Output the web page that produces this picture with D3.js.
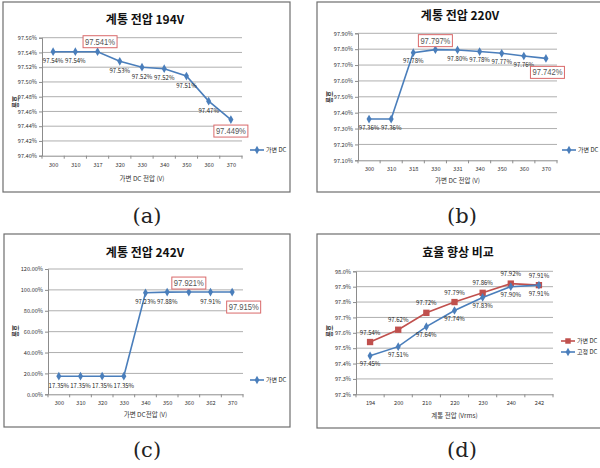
<!DOCTYPE html>
<html>
<head>
<meta charset="utf-8">
<script src="https://cdn.jsdelivr.net/npm/d3@7/dist/d3.min.js"></script>
<style>
  html, body { margin: 0; padding: 0; background: #fff; }
  svg { display: block; }
</style>
</head>
<body>
<svg id="chart" width="600" height="468"></svg>
<script>
// ── 데이터 ─────────────────────────────────────────────
// (a) 계통 전압 194V
const catsA   = ["300", "310", "317", "320", "330", "340", "350", "360", "370"];
const valsA   = [97.541, 97.541, 97.541, 97.528, 97.520, 97.518, 97.508, 97.474, 97.449];
const lblsA   = ["97.54%", "97.54%", "", "97.53%", "97.52%", "97.52%", "97.51%", "97.47%", ""];
const ticksA  = [97.40, 97.42, 97.44, 97.46, 97.48, 97.50, 97.52, 97.54, 97.56];
const boxesA  = ["97.541%", "97.449%"];

// (b) 계통 전압 220V
const catsB   = ["300", "310", "318", "330", "331", "340", "350", "360", "370"];
const valsB   = [97.36, 97.36, 97.778, 97.797, 97.795, 97.785, 97.774, 97.757, 97.742];
const lblsB   = ["97.36%", "97.36%", "97.78%", "", "97.80%", "97.78%", "97.77%", "97.76%", ""];
const ticksB  = [97.10, 97.20, 97.30, 97.40, 97.50, 97.60, 97.70, 97.80, 97.90];
const boxesB  = ["97.797%", "97.742%"];

// (c) 계통 전압 242V
const catsC   = ["300", "310", "320", "330", "340", "350", "360", "362", "370"];
const valsC   = [17.35, 17.35, 17.35, 17.35, 97.23, 97.88, 97.921, 97.91, 97.915];
const lblsC   = ["17.35%", "17.35%", "17.35%", "17.35%", "97.23%", "97.88%", "", "97.91%", ""];
const ticksC  = [0, 20, 40, 60, 80, 100, 120];
const boxesC  = ["97.921%", "97.915%"];

// (d) 효율 향상 비교
const catsD   = ["194", "200", "210", "220", "230", "240", "242"];
const varDC   = [97.54, 97.62, 97.73, 97.80, 97.86, 97.92, 97.91];
const fixDC   = [97.45, 97.51, 97.64, 97.745, 97.83, 97.90, 97.91];
const lblVar  = ["97.54%", "97.62%", "97.72%", "97.79%", "97.86%", "97.92%", "97.91%"];
const lblFix  = ["97.45%", "97.51%", "97.64%", "97.74%", "97.83%", "97.90%", "97.91%"];
const ticksD  = [97.2, 97.3, 97.4, 97.5, 97.6, 97.7, 97.8, 97.9, 98.0];

const BLUE = "#4a7ebb";
const RED  = "#c0504d";
const KR   = "'Noto Sans CJK KR', 'Noto Sans', sans-serif";

const svg = d3.select("#chart");

// ── 패널 그리기 ─────────────────────────────────────────
function drawPanel(p) {
  const g = svg.append("g");

  // 외곽 프레임
  g.append("rect")
    .attr("x", p.frame[0]).attr("y", p.frame[1])
    .attr("width", p.frame[2]).attr("height", p.frame[3])
    .attr("fill", "#fff").attr("stroke", "#6e6e6e").attr("stroke-width", 1.2);

  // 캡션 (a) 등
  svg.append("text")
    .attr("x", p.caption[0]).attr("y", p.caption[1])
    .attr("text-anchor", "middle")
    .attr("font-family", "'DejaVu Serif', 'Liberation Serif', serif")
    .attr("font-size", 21).attr("fill", "#222")
    .text(p.captionText);

  // 제목
  g.append("text")
    .attr("x", p.title[0]).attr("y", p.title[1])
    .attr("text-anchor", "middle")
    .attr("font-family", KR).attr("font-weight", "bold")
    .attr("font-size", 12).attr("fill", "#111")
    .text(p.titleText);

  const [x0, x1, yTop, yBot] = p.plot;
  const x = d3.scalePoint().domain(p.cats).range([x0, x1]).padding(0.5);
  const y = d3.scaleLinear().domain(p.domain).range([yBot, yTop]);

  // 그리드
  g.append("g").selectAll("line").data(p.ticks.slice(1)).join("line")
    .attr("x1", x0).attr("x2", x1)
    .attr("y1", d => y(d)).attr("y2", d => y(d))
    .attr("stroke", "#a6a6a6").attr("stroke-width", 0.9);

  // y축
  const yAxis = g.append("g")
    .attr("transform", `translate(${x0},0)`)
    .call(d3.axisLeft(y).tickValues(p.ticks).tickFormat(p.fmt).tickSize(3).tickPadding(2));
  yAxis.select(".domain").attr("stroke", "#8c8c8c");
  yAxis.selectAll(".tick line").attr("stroke", "#8c8c8c");
  yAxis.selectAll("text").attr("font-family", KR).attr("font-size", 5.6).attr("fill", "#333");

  // x축
  const step = x.step();
  const xAxis = g.append("g")
    .attr("transform", `translate(0,${yBot})`)
    .call(d3.axisBottom(x).tickSize(0).tickPadding(7));
  xAxis.select(".domain").attr("stroke", "#8c8c8c");
  xAxis.selectAll("text").attr("font-family", KR).attr("font-size", 5.6).attr("fill", "#333");
  g.append("g").selectAll("line").data(d3.range(p.cats.length + 1)).join("line")
    .attr("x1", i => x0 + i * step).attr("x2", i => x0 + i * step)
    .attr("y1", yBot).attr("y2", yBot + 3)
    .attr("stroke", "#8c8c8c");

  // 축 제목
  g.append("text")
    .attr("x", (x0 + x1) / 2).attr("y", p.xTitleY)
    .attr("text-anchor", "middle")
    .attr("font-family", KR).attr("font-size", 6.5).attr("fill", "#333")
    .text(p.xTitle);
  g.append("text")
    .attr("transform", `translate(${p.yTitle[0]},${p.yTitle[1]}) rotate(90)`)
    .attr("text-anchor", "middle")
    .attr("font-family", KR).attr("font-size", 6.5).attr("font-weight", "bold").attr("fill", "#333")
    .text("효율");

  // 계열
  p.series.forEach(s => {
    const pts = s.vals.map((v, i) => [x(p.cats[i]), y(v)]);
    g.append("path")
      .attr("d", d3.line()(pts))
      .attr("fill", "none").attr("stroke", s.color).attr("stroke-width", 1.6);
    const sym = d3.symbol().type(s.square ? d3.symbolSquare : d3.symbolDiamond).size(s.square ? 40 : 22);
    g.append("g").selectAll("path").data(pts).join("path")
      .attr("transform", d => `translate(${d[0]},${d[1]})`)
      .attr("d", sym).attr("fill", s.color);
    g.append("g").selectAll("text").data(s.labels).join("text")
      .attr("x", (d, i) => pts[i][0])
      .attr("y", (d, i) => pts[i][1] + s.ldy)
      .attr("text-anchor", "middle").attr("dominant-baseline", "middle")
      .attr("font-family", KR).attr("font-size", 6).attr("fill", "#222")
      .text(d => d);
  });

  // 강조 박스
  (p.boxes || []).forEach((b, k) => {
    const pos = p.boxPos[k];
    const px = x(p.cats[pos.i]) + pos.dx, py = y(p.series[0].vals[pos.i]) + pos.dy;
    g.append("rect")
      .attr("x", px - 17).attr("y", py - 6).attr("width", 34).attr("height", 12)
      .attr("fill", "#fff").attr("stroke", "#d9696a").attr("stroke-width", 1);
    g.append("text")
      .attr("x", px).attr("y", py + 0.5)
      .attr("text-anchor", "middle").attr("dominant-baseline", "middle")
      .attr("font-family", "'Liberation Sans', Arial, sans-serif")
      .attr("font-size", 9).attr("fill", "#555")
      .attr("textLength", 30).attr("lengthAdjust", "spacingAndGlyphs")
      .text(b);
  });

  // 범례
  p.legend.forEach((l, k) => {
    const ly = p.legendPos[1] + k * 11;
    const lx = p.legendPos[0];
    g.append("line")
      .attr("x1", lx).attr("x2", lx + 14).attr("y1", ly).attr("y2", ly)
      .attr("stroke", l.color).attr("stroke-width", 1.6);
    g.append("path")
      .attr("transform", `translate(${lx + 7},${ly})`)
      .attr("d", d3.symbol().type(l.square ? d3.symbolSquare : d3.symbolDiamond).size(l.square ? 30 : 20)())
      .attr("fill", l.color);
    g.append("text")
      .attr("x", lx + 16).attr("y", ly + 0.5)
      .attr("dominant-baseline", "middle")
      .attr("font-family", KR).attr("font-size", 6).attr("fill", "#222")
      .text(l.text);
  });
}

const pct2 = d => d3.format(".2f")(d) + "%";
const pct1 = d => d3.format(".1f")(d) + "%";

drawPanel({
  frame: [3, 2, 287, 190], caption: [147, 223], captionText: "(a)",
  title: [145, 24], titleText: "계통 전압 194V",
  plot: [42, 242, 37.7, 155.7], domain: [97.40, 97.56], ticks: ticksA, fmt: pct2, cats: catsA,
  xTitle: "가변 DC 전압 (V)", xTitleY: 181, yTitle: [13, 102],
  series: [{ vals: valsA, labels: lblsA, color: BLUE, ldy: 10 }],
  boxes: boxesA, boxPos: [{ i: 2, dx: 2.5, dy: -10 }, { i: 8, dx: 0, dy: 11.5 }],
  legend: [{ text: "가변 DC", color: BLUE }], legendPos: [250, 150]
});

drawPanel({
  frame: [317, 2, 290, 190], caption: [462, 223], captionText: "(b)",
  title: [460, 20], titleText: "계통 전압 220V",
  plot: [358, 557, 33.3, 160.3], domain: [97.10, 97.90], ticks: ticksB, fmt: pct2, cats: catsB,
  xTitle: "가변 DC 전압 (V)", xTitleY: 183, yTitle: [327, 97],
  series: [{ vals: valsB, labels: lblsB, color: BLUE, ldy: 9 }],
  boxes: boxesB, boxPos: [{ i: 3, dx: 0, dy: -9 }, { i: 8, dx: 1.5, dy: 14 }],
  legend: [{ text: "가변 DC", color: BLUE }], legendPos: [562, 150]
});

drawPanel({
  frame: [4, 234, 286, 193], caption: [147, 457], captionText: "(c)",
  title: [145, 257], titleText: "계통 전압 242V",
  plot: [48, 243, 269, 394.3], domain: [0, 120], ticks: ticksC, fmt: pct2, cats: catsC,
  xTitle: "가변 DC전압 (V)", xTitleY: 417, yTitle: [13, 331],
  series: [{ vals: valsC, labels: lblsC, color: BLUE, ldy: 10 }],
  boxes: boxesC, boxPos: [{ i: 6, dx: 0, dy: -9 }, { i: 8, dx: 11.5, dy: 15 }],
  legend: [{ text: "가변 DC", color: BLUE }], legendPos: [250, 380]
});

drawPanel({
  frame: [317, 234, 290, 194], caption: [462, 457], captionText: "(d)",
  title: [458, 257], titleText: "효율 향상 비교",
  plot: [356, 553, 271.3, 394.3], domain: [97.2, 98.0], ticks: ticksD, fmt: pct1, cats: catsD,
  xTitle: "계통 전압 (Vrms)", xTitleY: 418, yTitle: [327, 331],
  series: [
    { vals: varDC, labels: lblVar, color: RED, square: true, ldy: -9 },
    { vals: fixDC, labels: lblFix, color: BLUE, ldy: 9 }
  ],
  legend: [{ text: "가변 DC", color: RED, square: true }, { text: "고정 DC", color: BLUE }],
  legendPos: [561, 341]
});
</script>
</body>
</html>
